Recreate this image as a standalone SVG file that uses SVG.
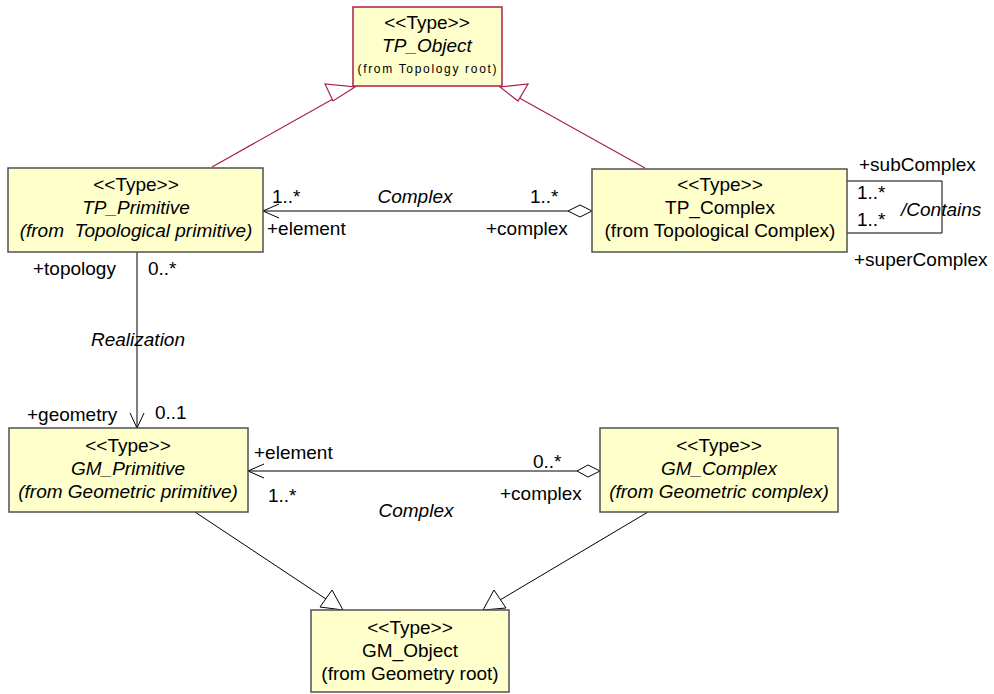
<svg xmlns="http://www.w3.org/2000/svg" width="994" height="694" viewBox="0 0 994 694">
<style>
.box{fill:#ffffcc;stroke:#505050;stroke-width:1.5}
.rbox{fill:#ffffcc;stroke:#a8204a;stroke-width:1.5}
text{font-family:"Liberation Sans",Arial,sans-serif;font-size:19px;fill:#000}
.c{text-anchor:middle}
.i{font-style:italic}
.sm{font-size:12px}
.ln{fill:none;stroke:#000;stroke-width:1}
.rl{fill:none;stroke:#a8204a;stroke-width:1.2}
.tri{fill:#fff;stroke:#000;stroke-width:1}
.rtri{fill:#fff;stroke:#a8204a;stroke-width:1.2}
.dia{fill:#fff;stroke:#000;stroke-width:1}
</style>
<rect width="994" height="694" fill="#fff"/>
<g id="connectors">
  <line class="rl" x1="212" y1="167" x2="340" y2="95"/>
  <polygon class="rtri" points="355,87 333,101 325,84"/>
  <line class="rl" x1="645" y1="168" x2="514" y2="95"/>
  <polygon class="rtri" points="500,87 528,84 518,101"/>
  <line class="ln" x1="263" y1="211" x2="568" y2="211"/>
  <polyline class="ln" points="279,204 263,211 279,218"/>
  <polygon class="dia" points="592,211 580,205 568,211 580,217"/>
  <polyline class="ln" points="847,181 942,181 942,233 847,233"/>
  <line class="ln" x1="137" y1="252" x2="137" y2="428"/>
  <polyline class="ln" points="130,413 137,428 144,413"/>
  <line class="ln" x1="248" y1="471" x2="577" y2="471"/>
  <polyline class="ln" points="264,464 248,471 264,478"/>
  <polygon class="dia" points="600,471 588,465 577,471 588,477"/>
  <line class="ln" x1="195" y1="512" x2="326" y2="599"/>
  <polygon class="tri" points="343,610 320,607 332,590"/>
  <line class="ln" x1="648" y1="512" x2="500" y2="600"/>
  <polygon class="tri" points="483,610 494,590 506,608"/>
</g>
<g id="labels">
  <text x="272" y="203">1..*</text>
  <text class="c i" x="415" y="203">Complex</text>
  <text x="530" y="203">1..*</text>
  <text x="267" y="235">+element</text>
  <text x="486" y="235">+complex</text>
  <text x="859" y="171">+subComplex</text>
  <text x="857" y="199">1..*</text>
  <text x="857" y="226">1..*</text>
  <text class="i" x="901" y="216">/Contains</text>
  <text x="854" y="266">+superComplex</text>
  <text x="33" y="275">+topology</text>
  <text x="148" y="275">0..*</text>
  <text class="c i" x="138" y="346">Realization</text>
  <text x="27" y="421">+geometry</text>
  <text x="155" y="419">0..1</text>
  <text x="254" y="459">+element</text>
  <text x="533" y="468">0..*</text>
  <text x="268" y="502">1..*</text>
  <text x="500" y="500">+complex</text>
  <text class="c i" x="416" y="517">Complex</text>
</g>
<g id="TP_Object">
  <rect class="rbox" x="353" y="7" width="149" height="79"/>
  <text class="c" x="427" y="29">&lt;&lt;Type&gt;&gt;</text>
  <text class="c i" x="427" y="52">TP_Object</text>
  <text class="c sm" x="427" y="73" textLength="139" lengthAdjust="spacing">(from   Topology root)</text>
</g>
<g id="TP_Primitive">
  <rect class="box" x="8" y="168" width="255" height="84"/>
  <text class="c" x="136" y="191">&lt;&lt;Type&gt;&gt;</text>
  <text class="c i" x="136" y="214">TP_Primitive</text>
  <text class="c i" x="136" y="237" xml:space="preserve">(from  Topological primitive)</text>
</g>
<g id="TP_Complex">
  <rect class="box" x="592" y="169" width="255" height="83"/>
  <text class="c" x="720" y="191">&lt;&lt;Type&gt;&gt;</text>
  <text class="c" x="720" y="214">TP_Complex</text>
  <text class="c" x="720" y="237">(from Topological Complex)</text>
</g>
<g id="GM_Primitive">
  <rect class="box" x="9" y="428" width="239" height="84"/>
  <text class="c" x="128" y="452">&lt;&lt;Type&gt;&gt;</text>
  <text class="c i" x="128" y="475">GM_Primitive</text>
  <text class="c i" x="128" y="498">(from Geometric primitive)</text>
</g>
<g id="GM_Complex">
  <rect class="box" x="600" y="428" width="238" height="84"/>
  <text class="c" x="719" y="452">&lt;&lt;Type&gt;&gt;</text>
  <text class="c i" x="719" y="475">GM_Complex</text>
  <text class="c i" x="719" y="498">(from Geometric complex)</text>
</g>
<g id="GM_Object">
  <rect class="box" x="311" y="610" width="198" height="82"/>
  <text class="c" x="410" y="634">&lt;&lt;Type&gt;&gt;</text>
  <text class="c" x="410" y="657">GM_Object</text>
  <text class="c" x="410" y="680">(from Geometry root)</text>
</g>
</svg>
